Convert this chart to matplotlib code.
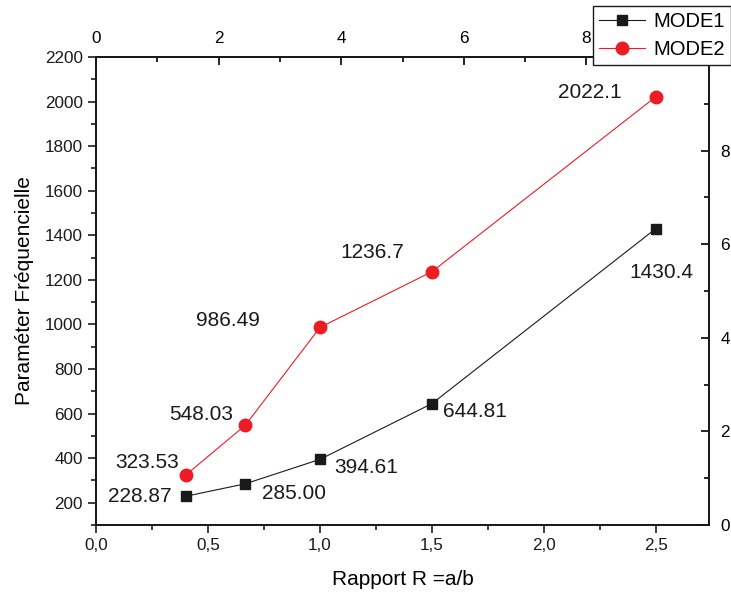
import matplotlib
matplotlib.use("Agg")
import matplotlib.pyplot as plt
from matplotlib.ticker import MultipleLocator, FuncFormatter

plt.rcParams['font.family'] = ['Liberation Sans', 'DejaVu Sans']

# data
ratio = [0.4, 0.667, 1.0, 1.5, 2.5]
mode1 = [228.87, 285.00, 394.61, 644.81, 1430.4]
mode2 = [323.53, 548.03, 986.49, 1236.7, 2022.1]
mode1_text = ["228.87", "285.00", "394.61", "644.81", "1430.4"]
mode2_text = ["323.53", "548.03", "986.49", "1236.7", "2022.1"]
twin_ticks = [0, 2, 4, 6, 8]

# label offsets (points) and alignment
mode1_off = [(-10, 0, 'right'), (12, -7, 'left'), (10, -6, 'left'),
             (8, -6, 'left'), (-19, -32, 'left')]
mode2_off = [(-5, 9, 'right'), (-9, 8, 'right'), (-43, 5, 'right'),
             (-20, 14, 'right'), (-25, 3, 'right')]

RED = "#ED1C24"
BLACK = "#1a1a1a"


def main():
    fig = plt.figure(figsize=(7.31, 5.96), dpi=100)
    ax = fig.add_axes([0.1313, 0.1191, 0.8387, 0.7853])

    l1, = ax.plot(ratio, mode1, color=BLACK, lw=0.8, marker='s', ms=7,
                  label="MODE1")
    l2, = ax.plot(ratio, mode2, color=RED, lw=0.8, marker='o', ms=9,
                  label="MODE2")

    for x, y, t, (dx, dy, ha) in zip(ratio, mode1, mode1_text, mode1_off):
        ax.annotate(t, (x, y), xytext=(dx, dy), textcoords='offset points',
                    ha=ha, va='center', fontsize=15, color=BLACK)
    for x, y, t, (dx, dy, ha) in zip(ratio, mode2, mode2_text, mode2_off):
        ax.annotate(t, (x, y), xytext=(dx, dy), textcoords='offset points',
                    ha=ha, va='center', fontsize=15, color=BLACK)

    ax.set_xlim(0, 2.737)
    ax.set_ylim(100, 2200)
    ax.xaxis.set_major_locator(MultipleLocator(0.5))
    ax.xaxis.set_minor_locator(MultipleLocator(0.25))
    ax.xaxis.set_major_formatter(
        FuncFormatter(lambda v, p: f"{v:.1f}".replace('.', ',')))
    ax.set_yticks(range(200, 2201, 200))
    ax.yaxis.set_minor_locator(MultipleLocator(100))
    ax.tick_params(which='both', direction='out', labelsize=12.3,
                   width=1.2, colors=BLACK)
    ax.tick_params(which='major', length=6)
    ax.tick_params(which='minor', length=3.5)
    ax.set_xlabel("Rapport R =a/b", fontsize=15, labelpad=12)
    ax.set_ylabel("Paraméter Fréquencielle", fontsize=15, labelpad=8)

    # right axis
    axr = ax.twinx()
    axr.set_ylim(0, 10)
    axr.set_yticks(twin_ticks)
    axr.yaxis.set_minor_locator(MultipleLocator(1))
    axr.tick_params(which='both', direction='in', labelsize=12.3,
                    width=1.2, pad=8)
    axr.tick_params(which='major', length=6)
    axr.tick_params(which='minor', length=3.5)

    # top axis
    axt = ax.twiny()
    axt.set_xlim(0, 10)
    axt.set_xticks(twin_ticks)
    axt.xaxis.set_minor_locator(MultipleLocator(1))
    axt.tick_params(which='both', direction='in', labelsize=12.3,
                    width=1.2, pad=8)
    axt.tick_params(which='major', length=6)
    axt.tick_params(which='minor', length=3.5)

    for a in (ax, axr, axt):
        for s in a.spines.values():
            s.set_linewidth(1.3)
            s.set_color(BLACK)

    leg = fig.legend([l1, l2], ["MODE1", "MODE2"], loc='upper left',
                     bbox_to_anchor=(593 / 731, 1 - 6 / 596), fontsize=14.5,
                     fancybox=False, edgecolor=BLACK, framealpha=1,
                     handlelength=2.3, borderpad=0.3, labelspacing=0.45,
                     handletextpad=0.4, borderaxespad=0)
    leg.get_frame().set_linewidth(1.0)

    fig.savefig("out.png", dpi=100)


if __name__ == "__main__":
    main()
